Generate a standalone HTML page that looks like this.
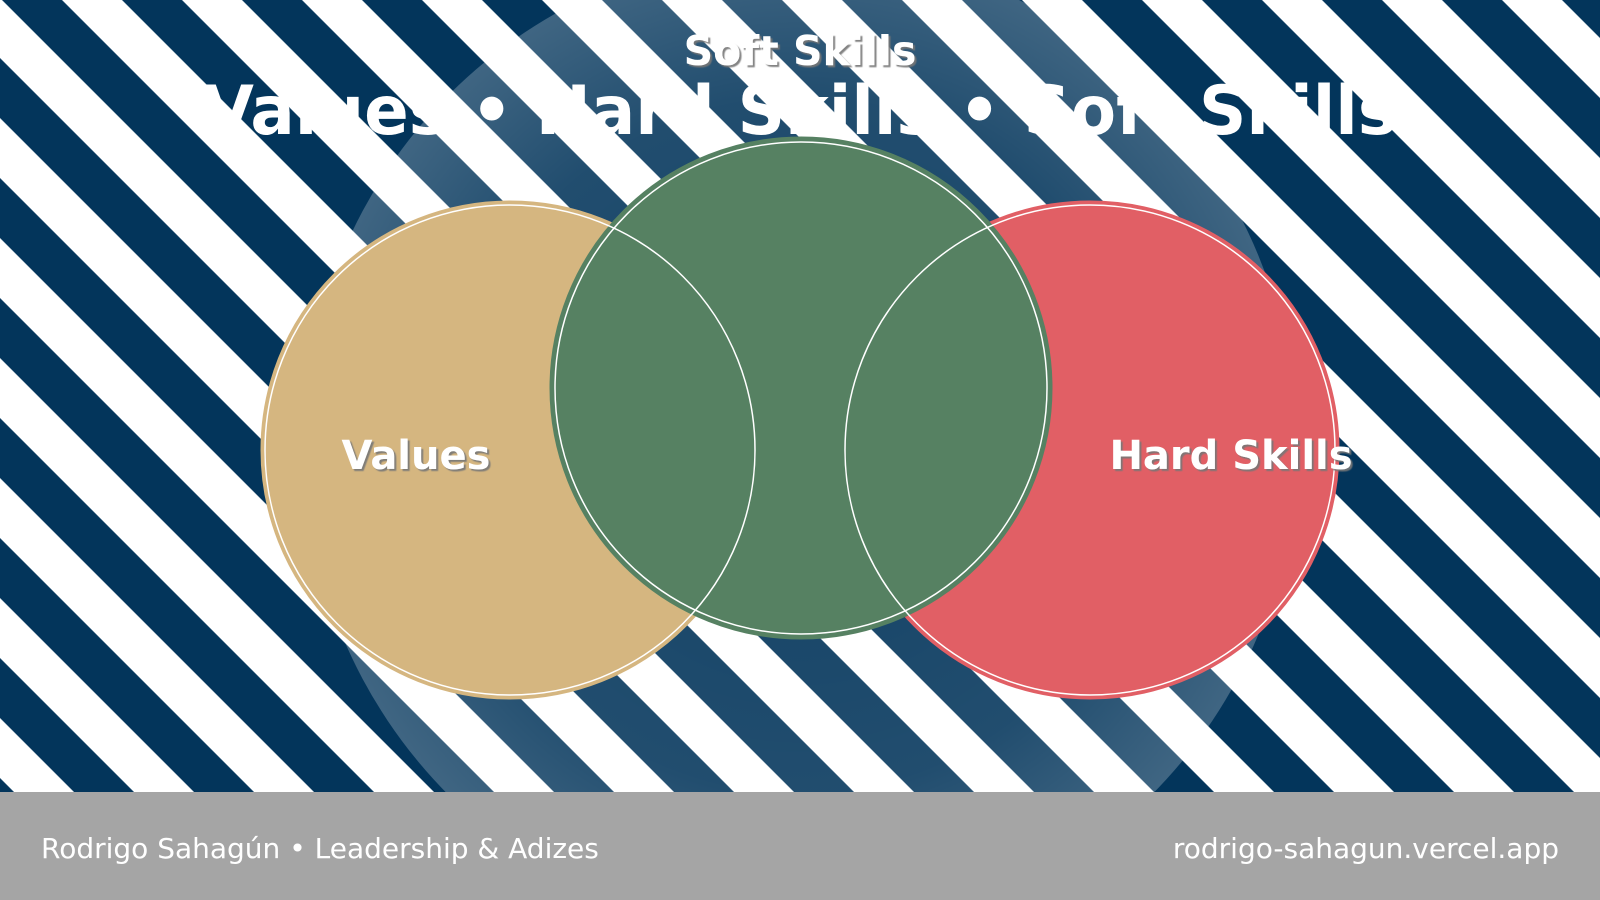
<!DOCTYPE html>
<html><head><meta charset="utf-8"><style>
html,body{margin:0;padding:0;width:1600px;height:900px;overflow:hidden;background:#fff}
svg{display:block}
</style></head><body>
<svg width="1600" height="900" viewBox="0 0 1600 900" xmlns="http://www.w3.org/2000/svg">
<defs>
<pattern id="st" patternUnits="userSpaceOnUse" width="84.853" height="20" patternTransform="rotate(-45)">
<rect x="0" y="0" width="84.853" height="20" fill="#fff"/>
<rect x="1.41" y="0" width="42.43" height="20" fill="#03355b"/>
</pattern>
<radialGradient id="rg" cx="0.5" cy="0.5" r="0.5">
<stop offset="0" stop-color="#fff" stop-opacity="0.06"/>
<stop offset="0.7" stop-color="#fff" stop-opacity="0.12"/>
<stop offset="1" stop-color="#fff" stop-opacity="0.24"/>
</radialGradient>
<filter id="sh" x="-10%" y="-10%" width="120%" height="130%"><feDropShadow dx="2" dy="2" stdDeviation="0.5" flood-color="#777" flood-opacity="0.9"/></filter>
</defs>
<rect width="1600" height="900" fill="url(#st)"/>
<circle cx="800" cy="445" r="496" fill="url(#rg)"/>
<g font-family="DejaVu Sans, Liberation Sans, sans-serif" font-weight="bold" fill="#fff" text-anchor="middle">
<text x="800" y="65" font-size="41" filter="url(#sh)">Soft Skills</text>
<text x="800" y="134" font-size="68" textLength="1194" lengthAdjust="spacingAndGlyphs">Values • Hard Skills • Soft Skills</text>
</g>
<circle cx="510" cy="450" r="246" fill="#d5b680" stroke="#d5b680" stroke-width="7"/>
<circle cx="1090" cy="450" r="246" fill="#e15f65" stroke="#e15f65" stroke-width="7"/>
<circle cx="801" cy="388" r="248" fill="#568162" stroke="#568162" stroke-width="7"/>
<g fill="none" stroke="#fff" stroke-width="1.5">
<circle cx="510" cy="450" r="245"/>
<circle cx="1090" cy="450" r="245"/>
<circle cx="801" cy="388" r="246"/>
</g>
<g font-family="DejaVu Sans, Liberation Sans, sans-serif" font-weight="bold" fill="#fff" text-anchor="middle" font-size="40" filter="url(#sh)">
<text x="416" y="469">Values</text>
<text x="1231" y="469">Hard Skills</text>
</g>
<rect x="0" y="792" width="1600" height="108" fill="#a5a5a5"/>
<g font-family="DejaVu Sans, Liberation Sans, sans-serif" fill="#fff" font-size="28">
<text x="41" y="858">Rodrigo Sahagún • Leadership &amp; Adizes</text>
<text x="1559" y="858" text-anchor="end">rodrigo-sahagun.vercel.app</text>
</g>
</svg>
</body></html>
